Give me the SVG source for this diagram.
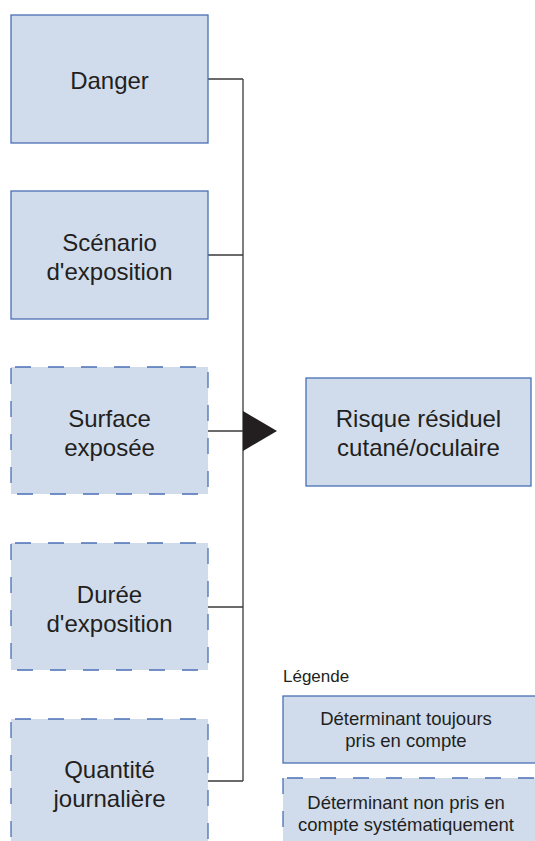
<svg xmlns="http://www.w3.org/2000/svg" width="535" height="841" viewBox="0 0 535 841">
<style>
.box{fill:#d0dcec;stroke:#4a6fb5;stroke-width:1.3}
.dash{stroke-dasharray:16 17;stroke-dashoffset:-4}
.t{font-family:"Liberation Sans",Arial,sans-serif;font-size:24px;fill:#231f20;text-anchor:middle}
.l{font-family:"Liberation Sans",Arial,sans-serif;font-size:18.5px;fill:#231f20;text-anchor:middle}
.c{fill:none;stroke:#3a3a3a;stroke-width:1.3}
</style>
<rect width="535" height="841" fill="#fff"/>
<g id="connectors">
<path class="c" d="M208 79H243M208 255H243M208 431H243M208 607H243M208 781H243M243 79V781"/>
<polygon points="243,411 277,431 243,451" fill="#231f20"/>
</g>
<g id="danger"><rect class="box" x="11" y="15" width="197" height="128"/><text class="t" x="109.5" y="89">Danger</text></g>
<g id="scenario"><rect class="box" x="11" y="191" width="197" height="128"/><text class="t" x="109.5" y="250.5">Scénario</text><text class="t" x="109.5" y="279.5">d'exposition</text></g>
<g id="surface"><rect class="box dash" x="11" y="367" width="197" height="127"/><text class="t" x="109.5" y="426.5">Surface</text><text class="t" x="109.5" y="455.5">exposée</text></g>
<g id="duree"><rect class="box dash" x="11" y="543" width="197" height="127"/><text class="t" x="109.5" y="602.5">Durée</text><text class="t" x="109.5" y="631.5">d'exposition</text></g>
<g id="quantite"><rect class="box dash" x="11" y="719" width="197" height="128"/><text class="t" x="109.5" y="778">Quantité</text><text class="t" x="109.5" y="807">journalière</text></g>
<g id="risque"><rect class="box" x="306" y="378" width="225" height="108"/><text class="t" x="418.5" y="427">Risque résiduel</text><text class="t" x="418.5" y="456">cutané/oculaire</text></g>
<g id="legende">
<text class="l" x="283" y="682" style="text-anchor:start;font-size:17px">Légende</text>
<rect class="box" x="283" y="696" width="260" height="67"/>
<text class="l" x="406" y="725">Déterminant toujours</text>
<text class="l" x="406" y="747">pris en compte</text>
<rect class="box dash" x="283" y="778" width="260" height="80"/>
<text class="l" x="406" y="809">Déterminant non pris en</text>
<text class="l" x="406" y="831">compte systématiquement</text>
</g>
</svg>
